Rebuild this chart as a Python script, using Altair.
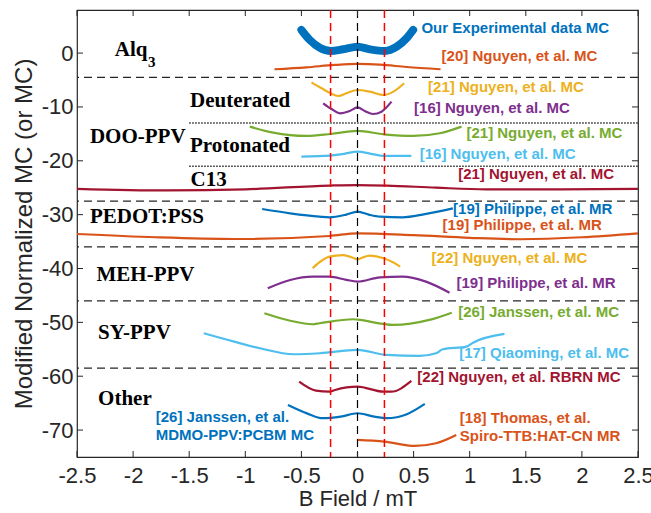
import altair as alt
import pandas as pd

# ---------------- data ----------------
exp_x = [-0.50, -0.425, -0.336, -0.24, -0.128, 0.0, 0.11, 0.243, 0.35, 0.437, 0.496]
exp_y = [4.3, 2.43, 1.0, 0.39, 0.7, 1.19, 0.7, 0.39, 1.19, 2.75, 4.3]

n20_x = [-0.74, -0.455, -0.2, 0.0, 0.2, 0.437, 0.74]
n20_y = [-3.0, -2.64, -2.2, -2.02, -2.15, -2.58, -3.0]

n21y_x = [-0.41, -0.32, -0.24, -0.17, -0.10, 0.0, 0.11, 0.234, 0.32, 0.416]
n21y_y = [-5.43, -6.54, -7.47, -7.97, -7.47, -6.85, -7.16, -7.78, -7.16, -5.6]

n16p_x = [-0.306, -0.232, -0.158, -0.069, 0.0, 0.065, 0.139, 0.214, 0.303]
n16p_y = [-9.32, -10.38, -11.18, -10.75, -10.07, -10.75, -11.31, -10.88, -9.02]

n21g_x = [-0.96, -0.752, -0.455, -0.24, 0.0, 0.234, 0.496, 0.734, 0.927]
n21g_y = [-13.66, -14.77, -15.39, -15.02, -14.46, -15.08, -15.39, -14.89, -13.66]

n16c_x = [-0.5, -0.24, -0.12, 0.0, 0.12, 0.234, 0.48]
n16c_y = [-19.23, -19.05, -18.7, -18.3, -18.7, -19.1, -19.1]

n21r_x = [-2.5, -1.7, -1.0, -0.25, 0.0, 0.26, 0.7, 1.15, 1.8, 2.5]
n21r_y = [-25.2, -25.5, -25.3, -24.6, -24.5, -24.6, -25.0, -25.3, -25.3, -25.2]

p19b_x = [-0.85, -0.6, -0.34, -0.25, -0.1, 0.0, 0.1, 0.2, 0.4, 0.6, 0.85]
p19b_y = [-28.95, -29.75, -30.37, -30.49, -30.0, -29.45, -30.0, -30.37, -30.49, -29.9, -28.82]

p19o_x = [-2.5, -1.8, -1.1, -0.25, 0.0, 0.5, 1.0, 1.45, 2.0, 2.5]
p19o_y = [-33.59, -34.2, -34.52, -33.96, -33.46, -33.8, -34.3, -34.57, -34.2, -33.46]

n22y_x = [-0.40, -0.33, -0.25, -0.13, -0.04, 0.0, 0.04, 0.11, 0.234, 0.32, 0.38]
n22y_y = [-39.96, -38.7, -37.8, -37.5, -38.0, -38.3, -38.0, -37.6, -38.1, -38.9, -39.66]

p19p_x = [-0.8, -0.6, -0.4, -0.25, -0.1, 0.0, 0.2, 0.4, 0.61, 0.82]
p19p_y = [-43.67, -42.13, -41.51, -41.51, -42.1, -42.44, -41.63, -41.51, -42.44, -44.49]

j26g_x = [-0.83, -0.6, -0.4, -0.34, -0.04, 0.0, 0.32, 0.64, 0.84]
j26g_y = [-48.31, -49.7, -50.35, -50.17, -49.42, -49.5, -50.48, -49.55, -48.2]

q17_x = [-1.37, -1.1, -0.87, -0.57, -0.336, 0.0, 0.26, 0.55, 0.7, 0.76, 0.97, 1.03, 1.31]
q17_y = [-52.02, -53.58, -54.81, -55.92, -55.74, -55.12, -56.05, -56.24, -55.74, -55.0, -54.51, -53.77, -52.15]

n22r_x = [-0.52, -0.37, -0.25, -0.2, 0.0, 0.23, 0.3, 0.48]
n22r_y = [-61.0, -62.68, -62.87, -62.55, -61.94, -62.87, -62.87, -60.88]

j26b_x = [-0.62, -0.45, -0.31, -0.15, 0.0, 0.15, 0.26, 0.44, 0.6]
j26b_y = [-65.34, -66.9, -67.8, -67.5, -66.88, -67.5, -67.8, -67.06, -65.15]

t18_x = [0.0, 0.24, 0.51, 0.7, 0.88]
t18_y = [-71.83, -72.15, -72.95, -72.45, -70.9]

series_names = ["n20", "n21y", "n16p", "n21g", "n16c", "n21r", "p19b", "p19o",
                "n22y", "p19p", "j26g", "q17", "n22r", "j26b", "t18"]
series_xy = [(n20_x, n20_y), (n21y_x, n21y_y), (n16p_x, n16p_y), (n21g_x, n21g_y),
             (n16c_x, n16c_y), (n21r_x, n21r_y), (p19b_x, p19b_y), (p19o_x, p19o_y),
             (n22y_x, n22y_y), (p19p_x, p19p_y), (j26g_x, j26g_y), (q17_x, q17_y),
             (n22r_x, n22r_y), (j26b_x, j26b_y), (t18_x, t18_y)]

BLUE, ORANGE, YELLOW, PURPLE, GREEN, CYAN, DRED = (
    "#0072BD", "#D95319", "#EDB120", "#7E2F8E", "#77AC30", "#4DBEEE", "#A2142F")
series_colors = [ORANGE, YELLOW, PURPLE, GREEN, CYAN, DRED, BLUE, ORANGE,
                 YELLOW, PURPLE, GREEN, CYAN, DRED, BLUE, ORANGE]

# separators
dash_y = [-4.5, -27.5, -36, -46, -58.5]
dot_y = [-13, -21]
dot_x0, dot_x1 = -1.5, 2.5
red_x = [-0.24, 0.24]
black_x = [0.0]

# annotation texts
group_texts = ["Alq", "Deuterated", "DOO-PPV", "Protonated", "C13",
               "PEDOT:PSS", "MEH-PPV", "SY-PPV", "Other"]
group_x = [-2.163, -1.493, -2.385, -1.493, -1.488, -2.385, -2.326, -2.312, -2.312]
group_y = [-0.63, -10.06, -16.64, -18.42, -24.62, -31.6, -42.26, -53.14, -65.34]
sub_text, sub_x, sub_y = "3", -1.868, -2.6

label_texts = ["Our Experimental data MC", "[20] Nguyen, et al. MC", "[21] Nguyen, et al. MC",
               "[16] Nguyen, et al. MC", "[21] Nguyen, et al. MC", "[16] Nguyen, et al. MC",
               "[21] Nguyen, et al. MC", "[19] Philippe, et al. MR", "[19] Philippe, et al. MR",
               "[22] Nguyen, et al. MC", "[19] Philippe, et al. MR", "[26] Janssen, et al. MC",
               "[17] Qiaoming, et al. MC", "[22] Nguyen, et al. RBRN MC",
               "[26] Janssen, et al.", "MDMO-PPV:PCBM MC",
               "[18] Thomas, et al.", "Spiro-TTB:HAT-CN MR"]
label_x = [0.570, 0.749, 0.629, 0.504, 0.971, 0.555, 0.897, 0.852, 0.758, 0.660,
           0.882, 0.897, 0.906, 0.533, -1.798, -1.798, 0.912, 0.912]
label_y = [4.66, -0.54, -6.35, -10.25, -14.89, -18.73, -22.45, -28.9, -31.9, -37.99,
           -42.63, -48.01, -55.74, -60.08, -67.51, -70.9, -67.8, -71.1]
label_colors = [BLUE, ORANGE, YELLOW, PURPLE, GREEN, CYAN, DRED, BLUE, ORANGE, YELLOW,
                PURPLE, GREEN, CYAN, DRED, BLUE, BLUE, ORANGE, ORANGE]

x_ticks = [-2.5, -2, -1.5, -1, -0.5, 0, 0.5, 1, 1.5, 2, 2.5]
y_ticks = [0, -10, -20, -30, -40, -50, -60, -70]

# ---------------- tables ----------------
rows = []
for name, (xs, ys) in zip(series_names, series_xy):
    for i, (a, b) in enumerate(zip(xs, ys)):
        rows.append({"series": name, "x": a, "y": b, "i": i})
curves = pd.DataFrame(rows)
exp_df = pd.DataFrame({"x": exp_x, "y": exp_y})
groups_df = pd.DataFrame({"x": group_x, "y": group_y, "t": group_texts})
sub_df = pd.DataFrame({"x": [sub_x], "y": [sub_y], "t": [sub_text]})
labels_df = pd.DataFrame({"x": label_x, "y": label_y, "t": label_texts, "c": label_colors})
dash_df = pd.DataFrame({"y": dash_y})
dot_df = pd.DataFrame({"y": dot_y, "x0": [dot_x0] * len(dot_y), "x1": [dot_x1] * len(dot_y)})
red_df = pd.DataFrame({"x": red_x})
black_df = pd.DataFrame({"x": black_x})
xt_df = pd.DataFrame({"x": x_ticks})
yt_df = pd.DataFrame({"y": y_ticks})

W, H = 561, 447
TXT = "#262626"
xsc = alt.Scale(domain=[-2.5, 2.5], nice=False, zero=False)
ysc = alt.Scale(domain=[-75, 8], nice=False, zero=False)

lab_expr = "datum.value < 0 ? '-' + format(-datum.value, '~g') : format(datum.value, '~g')"
x_axis = alt.Axis(values=x_ticks, labelExpr=lab_expr, grid=False, domain=False, ticks=False,
                  labelFlush=False, labelOverlap=False,
                  labelFont="Liberation Sans", labelFontSize=22, labelColor=TXT, labelPadding=8,
                  title="B Field / mT", titleFont="Liberation Sans", titleFontSize=22,
                  titleFontWeight="normal", titleColor=TXT, titlePadding=2)
y_axis = alt.Axis(values=y_ticks, labelExpr=lab_expr, grid=False, domain=False, ticks=False,
                  labelFlush=False, labelOverlap=False,
                  labelFont="Liberation Sans", labelFontSize=22, labelColor=TXT, labelPadding=4,
                  title="Modified Normalized MC (or MC)", titleFont="Liberation Sans",
                  titleFontSize=24, titleFontWeight="normal", titleColor=TXT, titlePadding=5)

base_x = alt.X("x:Q", scale=xsc, axis=x_axis)
base_y = alt.Y("y:Q", scale=ysc, axis=y_axis)

lines = alt.Chart(curves).mark_line(strokeWidth=2.2, interpolate="monotone").encode(
    x=base_x, y=base_y,
    color=alt.Color("series:N", scale=alt.Scale(domain=series_names, range=series_colors), legend=None),
    detail="series:N", order="i:Q")

exp_line = alt.Chart(exp_df).mark_line(strokeWidth=8, color=BLUE, strokeCap="round",
                                       interpolate="monotone").encode(
    x=alt.X("x:Q", scale=xsc), y=alt.Y("y:Q", scale=ysc))

dashes = alt.Chart(dash_df).mark_rule(color="#262626", strokeWidth=1.3, strokeDash=[8, 5]).encode(
    y=alt.Y("y:Q", scale=ysc))
dots = alt.Chart(dot_df).mark_rule(color="#262626", strokeWidth=1.5, strokeDash=[1.5, 1.5]).encode(
    y=alt.Y("y:Q", scale=ysc), x=alt.X("x0:Q", scale=xsc), x2="x1:Q")
reds = alt.Chart(red_df).mark_rule(color="#FF0000", strokeWidth=1.5, strokeDash=[8, 5]).encode(
    x=alt.X("x:Q", scale=xsc))
blacks = alt.Chart(black_df).mark_rule(color="#000000", strokeWidth=1.2, strokeDash=[8, 5]).encode(
    x=alt.X("x:Q", scale=xsc))

tick_b = alt.Chart(xt_df).mark_rule(color=TXT, strokeWidth=1).encode(
    x=alt.X("x:Q", scale=xsc), y=alt.value(H), y2=alt.value(H - 6))
tick_t = alt.Chart(xt_df).mark_rule(color=TXT, strokeWidth=1).encode(
    x=alt.X("x:Q", scale=xsc), y=alt.value(0), y2=alt.value(6))
tick_l = alt.Chart(yt_df).mark_rule(color=TXT, strokeWidth=1).encode(
    y=alt.Y("y:Q", scale=ysc), x=alt.value(0), x2=alt.value(6))
tick_r = alt.Chart(yt_df).mark_rule(color=TXT, strokeWidth=1).encode(
    y=alt.Y("y:Q", scale=ysc), x=alt.value(W), x2=alt.value(W - 6))

groups = alt.Chart(groups_df).mark_text(font="Liberation Serif", fontWeight="bold", fontSize=21,
                                        align="left", baseline="alphabetic", color="#000000").encode(
    x=alt.X("x:Q", scale=xsc), y=alt.Y("y:Q", scale=ysc), text="t:N")
sub = alt.Chart(sub_df).mark_text(font="Liberation Serif", fontWeight="bold", fontSize=15,
                                  align="left", baseline="alphabetic", color="#000000").encode(
    x=alt.X("x:Q", scale=xsc), y=alt.Y("y:Q", scale=ysc), text="t:N")
labels = alt.Chart(labels_df).mark_text(font="Liberation Sans", fontWeight="bold", fontSize=15,
                                        align="left", baseline="middle").encode(
    x=alt.X("x:Q", scale=xsc), y=alt.Y("y:Q", scale=ysc), text="t:N",
    color=alt.Color("c:N", scale=None))

chart = alt.layer(
    lines, exp_line, dashes, dots, reds, blacks,
    tick_b, tick_t, tick_l, tick_r, groups, sub, labels
).properties(
    width=W, height=H,
    autosize=alt.AutoSizeParams(type="none"),
    padding={"left": 77, "top": 10, "right": 13, "bottom": 56},
    background="white",
).configure_view(stroke=TXT, strokeWidth=1.2)

chart.save("out.html", embed_options={"renderer": "svg", "actions": False})
